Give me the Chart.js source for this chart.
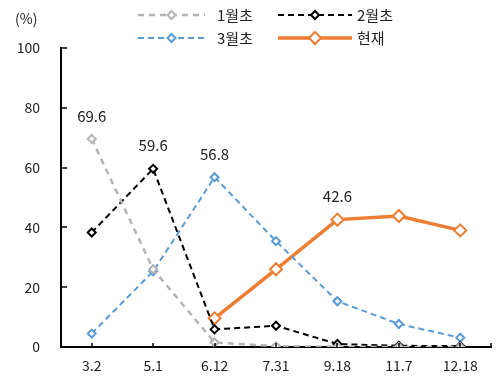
<!DOCTYPE html>
<html><head><meta charset="utf-8">
<script src="https://cdn.jsdelivr.net/npm/chart.js@4.4.1/dist/chart.umd.min.js"></script>
<style>html,body{margin:0;padding:0;background:#fff}#w{width:500px;height:384px}</style>
</head><body><div id="w"><canvas id="c"></canvas></div>
<script>
const categories = ['3.2','5.1','6.12','7.31','9.18','11.7','12.18'];
const seriesNames = ['1월초','2월초','3월초','현재'];
const jan = [69.6, 26, 1.5, 0.3, 0.1, 0, 0];
const feb = [38.3, 59.6, 5.9, 7.1, 1.0, 0.4, 0.3];
const mar = [4.5, 25.3, 56.8, 35.4, 15.3, 7.7, 3.1];
const now = [null, null, 9.6, 26, 42.6, 43.8, 39];
const yTicks = [0, 20, 40, 60, 80, 100];
const labelIdx = [[0], [1], [2], [4]];
const F = "'Noto Sans CJK KR','Noto Sans',sans-serif";

const mk = (label, data, color, dash, width, radius, bw) => ({
  label, data, borderColor: color, backgroundColor: '#fff', borderDash: dash, borderWidth: width,
  pointStyle: 'rectRot', pointRadius: radius, pointBorderWidth: bw, pointBorderColor: color,
  pointBackgroundColor: '#fff', tension: 0, spanGaps: false
});
const datasets = [
  mk(seriesNames[0], jan, '#B4B4B4', [6,5], 2.5, 4, 2),
  mk(seriesNames[1], feb, '#000000', [6,4], 2, 4, 2),
  mk(seriesNames[2], mar, '#5B9BD5', [6,4], 2, 4, 2),
  mk(seriesNames[3], now, '#ED7D31', [], 3.5, 6, 2)
];

const extras = {
  id: 'extras',
  afterDraw(chart) {
    const ctx = chart.ctx, x = chart.scales.x, y = chart.scales.y, a = chart.chartArea;
    ctx.save();
    ctx.strokeStyle = '#000'; ctx.lineWidth = 1.5;
    yTicks.forEach(v => { const py = Math.round(y.getPixelForValue(v)); ctx.beginPath(); ctx.moveTo(a.left, py); ctx.lineTo(a.left + 6, py); ctx.stroke(); });
    categories.forEach((c, i) => { const px = Math.round(x.getPixelForValue(i)); ctx.beginPath(); ctx.moveTo(px, a.bottom); ctx.lineTo(px, a.bottom - 4); ctx.stroke(); });
    ctx.beginPath(); ctx.moveTo(a.right, a.bottom); ctx.lineTo(a.right, a.bottom - 4); ctx.stroke();
    // data labels
    ctx.fillStyle = '#222'; ctx.font = '15px ' + F; ctx.textAlign = 'center'; ctx.textBaseline = 'middle';
    labelIdx.forEach((arr, di) => {
      const meta = chart.getDatasetMeta(di);
      arr.forEach(i => { const p = meta.data[i]; ctx.fillText(datasets[di].data[i].toFixed(1), p.x, p.y - 23); });
    });
    // unit
    ctx.textAlign = 'left'; ctx.font = '14px ' + F; ctx.fillText('(%)', 15, 19);
    // legend
    const slots = [[138, 205, 217, 15], [278, 352, 357, 15], [138, 205, 217, 38], [278, 352, 357, 38]];
    datasets.forEach((d, i) => {
      const [x0, x1, tx, ly] = slots[i];
      ctx.strokeStyle = d.borderColor; ctx.lineWidth = d.borderWidth; ctx.setLineDash(d.borderDash);
      ctx.beginPath(); ctx.moveTo(x0, ly); ctx.lineTo(x1, ly); ctx.stroke(); ctx.setLineDash([]);
      const cx = (x0 + x1) / 2, r = d.pointRadius;
      ctx.fillStyle = '#fff'; ctx.lineWidth = d.pointBorderWidth; ctx.strokeStyle = d.borderColor;
      ctx.beginPath(); ctx.moveTo(cx, ly - r); ctx.lineTo(cx + r, ly); ctx.lineTo(cx, ly + r); ctx.lineTo(cx - r, ly); ctx.closePath(); ctx.fill(); ctx.stroke();
      ctx.fillStyle = '#222'; ctx.font = '15px ' + F; ctx.fillText(d.label, tx, ly);
    });
    ctx.restore();
  }
};

new Chart(document.getElementById('c'), {
  type: 'line',
  data: { labels: categories, datasets },
  options: {
    responsive: true, maintainAspectRatio: false, animation: false,
    layout: { padding: { top: 48, right: 9, left: 0, bottom: 0 } },
    plugins: { legend: { display: false }, tooltip: { enabled: false } },
    scales: {
      x: {
        offset: true,
        grid: { display: false, drawTicks: false },
        border: { display: true, color: '#000', width: 2 },
        ticks: { color: '#222', font: { size: 14, family: F }, padding: 10, maxRotation: 0 },
        afterFit: s => { s.height = 37; }
      },
      y: {
        min: 0, max: 100,
        afterBuildTicks: s => { s.ticks = yTicks.map(v => ({ value: v })); },
        grid: { display: false, drawTicks: false },
        border: { display: true, color: '#000', width: 2 },
        ticks: { color: '#222', font: { size: 14, family: F }, padding: 21 },
        afterFit: s => { s.width = 61; }
      }
    }
  },
  plugins: [extras]
});
</script></body></html>
